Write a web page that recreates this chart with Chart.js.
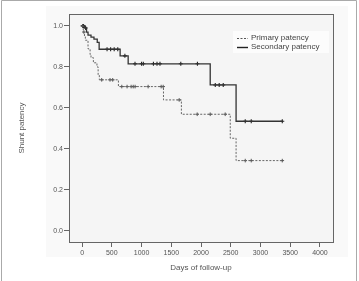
<!DOCTYPE html>
<html>
<head>
<meta charset="utf-8">
<script src="https://cdn.jsdelivr.net/npm/chart.js@4.4.1/dist/chart.umd.min.js"></script>
<style>
  html, body { margin: 0; padding: 0; background: #fff; }
  #wrap { width: 359px; height: 281px; position: relative; }
</style>
</head>
<body>
<div id="wrap"><canvas id="km"></canvas></div>
<script>
// Kaplan-Meier steps: [days, survival after event]
const primaryTimes = [0, 20, 40, 55, 100, 135, 150, 190, 250, 270, 290, 611, 1369, 1670, 2492, 2590, 3367];
const primarySurv  = [1.0, 0.97, 0.95, 0.93, 0.888, 0.86, 0.845, 0.82, 0.80, 0.76, 0.737, 0.704, 0.639, 0.569, 0.452, 0.343, 0.343];
const secondaryTimes = [0, 45, 75, 100, 150, 200, 255, 287, 640, 775, 2155, 2590, 3367];
const secondarySurv  = [1.0, 0.99, 0.97, 0.955, 0.945, 0.935, 0.92, 0.886, 0.854, 0.815, 0.712, 0.535, 0.535];

// censored observations (days)
const primaryCensored = [10, 30, 330, 470, 515, 668, 757, 825, 860, 892, 1111, 1330, 1364, 1633, 1936, 2155, 2407, 2744, 2845, 3367];
const secondaryCensored = [10, 25, 60, 420, 480, 540, 600, 720, 890, 1000, 1030, 1200, 1260, 1310, 1660, 1940, 2240, 2306, 2374, 2744, 2845, 3367];

const xTicks = [0, 500, 1000, 1500, 2000, 2500, 3000, 3500, 4000];
const yTicks = [0, 0.2, 0.4, 0.6, 0.8, 1.0];

const seriesLabels = ["Primary patency", "Secondary patency"];

function survAt(times, surv, t) {
    let s = surv[0];
    for (let i = 0; i < times.length; i++) {
        if (times[i] <= t) s = surv[i];
    }
    return s;
}

function toPoints(times, surv) {
    return times.map((t, i) => ({x: t, y: surv[i]}));
}

function censorPoints(times, surv, cens) {
    return cens.map(t => ({x: t, y: survAt(times, surv, t)}));
}

const FONT = "'Liberation Sans', Arial, sans-serif";
const TXT = "#555";

const bgPlugin = {
    id: "bg",
    beforeDraw(chart) {
        const ctx = chart.ctx;
        const a = chart.chartArea;
        ctx.save();
        ctx.fillStyle = "#f9f9f9";
        ctx.fillRect(46, 6, 302, 251);
        ctx.fillStyle = "#f5f5f5";
        ctx.fillRect(a.left, a.top, a.right - a.left, a.bottom - a.top);
        ctx.restore();
    },
    afterDraw(chart) {
        const ctx = chart.ctx;
        const a = chart.chartArea;
        ctx.save();
        // plot box
        ctx.strokeStyle = "#666";
        ctx.lineWidth = 1;
        ctx.strokeRect(Math.round(a.left) + 0.5, Math.round(a.top) + 0.5,
            Math.round(a.right - a.left), Math.round(a.bottom - a.top));
        // figure frame
        ctx.strokeStyle = "#aaa";
        ctx.beginPath();
        ctx.moveTo(1.5, 281); ctx.lineTo(1.5, 0.5); ctx.lineTo(356.5, 0.5); ctx.lineTo(356.5, 281);
        ctx.stroke();

        // legend
        const lx = a.right - 96, ly = a.top + 24;
        ctx.fillStyle = "#fcfcfc";
        ctx.fillRect(lx - 4, ly - 7, 96, 22);
        ctx.font = "8px " + FONT;
        ctx.textBaseline = "middle";
        ctx.fillStyle = "#444";
        const styles = [
            {color: "#555", dash: [2, 1.5], width: 1.2},
            {color: "#222", dash: [], width: 1.4}
        ];
        seriesLabels.forEach((lab, i) => {
            const y = ly + i * 9;
            ctx.strokeStyle = styles[i].color;
            ctx.lineWidth = styles[i].width;
            ctx.setLineDash(styles[i].dash);
            ctx.beginPath();
            ctx.moveTo(lx, y + 0.5);
            ctx.lineTo(lx + 11, y + 0.5);
            ctx.stroke();
            ctx.setLineDash([]);
            ctx.fillText(lab, lx + 14, y);
        });
        ctx.restore();
    }
};

new Chart(document.getElementById("km"), {
    type: "line",
    data: {
        datasets: [
            {
                label: seriesLabels[0],
                data: toPoints(primaryTimes, primarySurv),
                stepped: true,
                borderColor: "#666",
                borderWidth: 1,
                borderDash: [2, 1.5],
                pointRadius: 0,
                fill: false
            },
            {
                label: seriesLabels[1],
                data: toPoints(secondaryTimes, secondarySurv),
                stepped: true,
                borderColor: "#333",
                borderWidth: 1.3,
                pointRadius: 0,
                fill: false
            },
            {
                label: "primary censored",
                data: censorPoints(primaryTimes, primarySurv, primaryCensored),
                showLine: false,
                pointStyle: "cross",
                pointRadius: 1.8,
                pointBorderWidth: 1,
                pointBorderColor: "#555"
            },
            {
                label: "secondary censored",
                data: censorPoints(secondaryTimes, secondarySurv, secondaryCensored),
                showLine: false,
                pointStyle: "cross",
                pointRadius: 2,
                pointBorderWidth: 1.1,
                pointBorderColor: "#222"
            }
        ]
    },
    options: {
        responsive: true,
        maintainAspectRatio: false,
        animation: false,
        devicePixelRatio: 1,
        layout: { padding: { left: 0, right: 26, top: 14, bottom: 0 } },
        plugins: {
            legend: { display: false },
            tooltip: { enabled: false }
        },
        scales: {
            x: {
                type: "linear",
                min: -220,
                max: 4220,
                afterBuildTicks: (s) => { s.ticks = xTicks.map(v => ({value: v})); },
                afterFit: (s) => { s.height = 39; },
                grid: { display: true, drawOnChartArea: false, drawTicks: true, tickLength: 5, tickColor: "#666" },
                border: { display: false },
                ticks: { font: { size: 7, family: FONT }, color: TXT, padding: 2, maxRotation: 0, callback: (v) => String(v) },
                title: { display: true, text: "Days of follow-up", font: { size: 8, family: FONT }, color: TXT, padding: { top: 0, bottom: 8 } }
            },
            y: {
                type: "linear",
                min: -0.054,
                max: 1.058,
                afterBuildTicks: (s) => { s.ticks = yTicks.map(v => ({value: v})); },
                afterFit: (s) => { s.width = 69; },
                grid: { display: true, drawOnChartArea: false, drawTicks: true, tickLength: 5, tickColor: "#666" },
                border: { display: false },
                ticks: { font: { size: 7, family: FONT }, color: TXT, padding: 1, callback: (v) => Number(v).toFixed(1) },
                title: { display: true, text: "Shunt patency", font: { size: 8, family: FONT }, color: TXT, padding: { top: 17, bottom: 0 } }
            }
        }
    },
    plugins: [bgPlugin]
});
</script>
</body>
</html>
